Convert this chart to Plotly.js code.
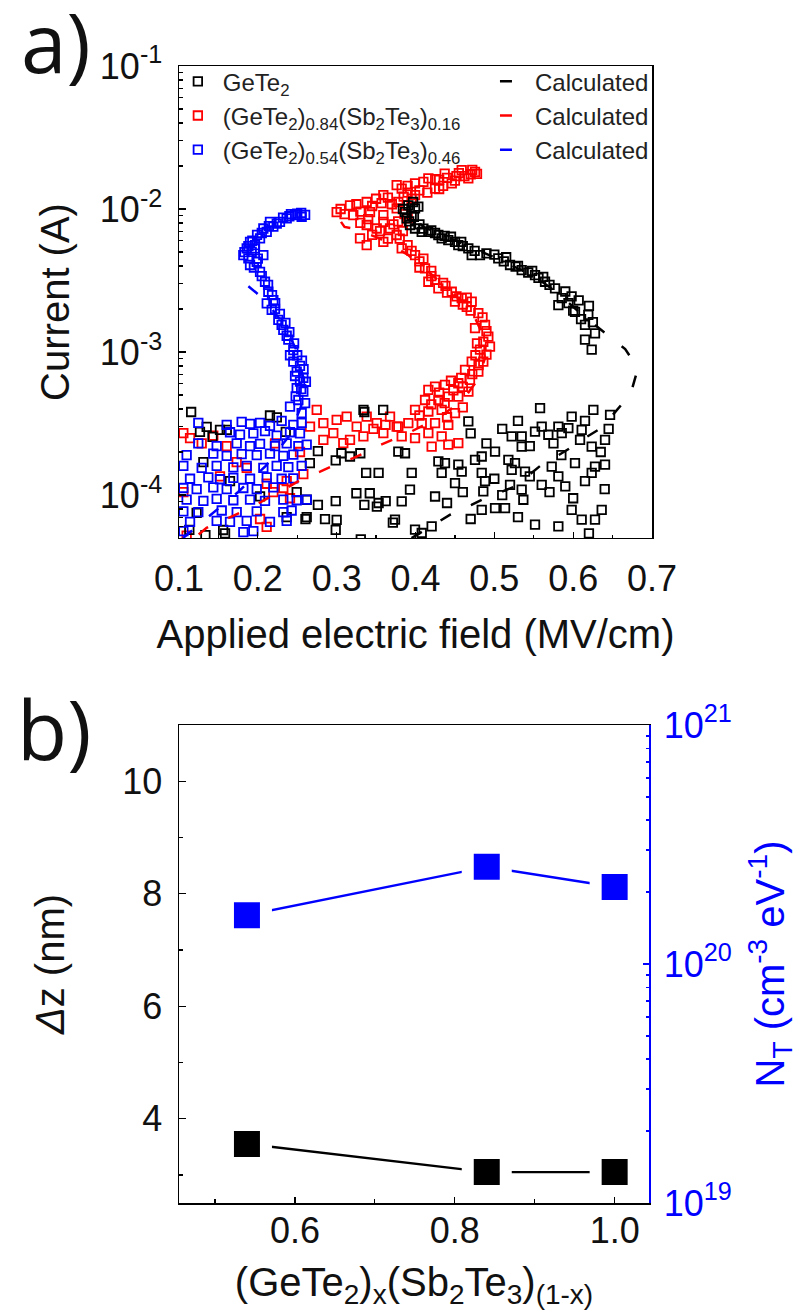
<!DOCTYPE html>
<html>
<head>
<meta charset="utf-8">
<script src="https://cdn.plot.ly/plotly-3.0.1.min.js"></script>
<style>
  html, body { margin: 0; padding: 0; background: #ffffff; }
  #chart { width: 808px; height: 1316px; }
</style>
</head>
<body>
<div id="chart"></div>
<script>
// ---------- Panel a: I–E characteristics ----------
// GeTe2 measured points (field in MV/cm, current in A)
const gete2Field = [
  0.3909, 0.3994, 0.4036, 0.3888, 0.3930, 0.3867, 0.3951, 0.3840, 0.3970, 0.3920, 0.3980,
  0.3994, 0.4079, 0.4163, 0.4248, 0.4290, 0.4332, 0.4416, 0.4501, 0.4543, 0.4600, 0.4670, 0.4713, 0.4818, 0.4900,
  0.5050, 0.5120, 0.5199, 0.5270, 0.5347, 0.5430, 0.5516, 0.5560, 0.5643, 0.5700, 0.5770, 0.5855, 0.5940, 0.5812,
  0.6023, 0.6100, 0.6192, 0.6150, 0.6277, 0.6150, 0.6235,
  0.4050, 0.4100, 0.4200, 0.4370, 0.4450, 0.4580, 0.4750, 0.5000, 0.5150, 0.5300, 0.5480, 0.5620, 0.5900, 0.5980,
  0.6070, 0.6200, 0.6250, 0.6000,
  0.5580, 0.5981, 0.6256, 0.6468, 0.4670, 0.5601, 0.5812, 0.5939, 0.6108, 0.5220, 0.5347, 0.5516, 0.5685, 0.5855,
  0.6087, 0.6235, 0.6404, 0.5347, 0.3782, 0.3867, 0.5009, 0.4840, 0.4755, 0.4290, 0.4374, 0.4543, 0.5178, 0.5262,
  0.5728, 0.6023, 0.6277, 0.6404, 0.3952, 0.4332, 0.4586, 0.4840, 0.5220, 0.5389, 0.5812, 0.6235, 0.4501, 0.4882,
  0.5199, 0.5347, 0.5601, 0.3930, 0.4248, 0.4860, 0.5368, 0.3825, 0.4840, 0.5009, 0.5136, 0.5516, 0.5812, 0.5981,
  0.6108, 0.6277, 0.6362, 0.3740, 0.4205, 0.4079, 0.3994,
  0.4700, 0.4900, 0.5100, 0.5300, 0.5450, 0.5750, 0.5850, 0.6150, 0.6350, 0.6450, 0.5000, 0.5100, 0.5450, 0.5700,
  0.5900, 0.6150, 0.6400, 0.4600, 0.4400, 0.4700, 0.5300, 0.6000, 0.6200,
  0.1154, 0.1606, 0.2241, 0.2762, 0.2988, 0.3169, 0.3351, 0.3374, 0.3532, 0.2762, 0.2988, 0.2852, 0.2988, 0.3351,
  0.3532, 0.3622, 0.3306, 0.3713, 0.1131, 0.1335, 0.1584, 0.1266, 0.1425, 0.2354, 0.2604, 0.1520, 0.1351, 0.2154,
  0.1309, 0.1647, 0.2028, 0.2366, 0.1224, 0.2493,
  0.3060, 0.3300, 0.3340, 0.3590, 0.2660, 0.2620, 0.3250, 0.3420, 0.2620, 0.3000, 0.3510, 0.1560
];
const gete2Current = [
  1.06e-2, 1.01e-2, 1.04e-2, 8.59e-3, 7.73e-3, 9.5e-3, 9.0e-3, 1.0e-2, 1.12e-2, 8.2e-3, 8.8e-3,
  7.31e-3, 6.93e-3, 6.93e-3, 6.8e-3, 6.58e-3, 6.23e-3, 6.07e-3, 5.9e-3, 5.6e-3, 5.5e-3, 5.31e-3, 4.76e-3, 4.76e-3, 4.9e-3,
  4.52e-3, 4.3e-3, 4.06e-3, 3.95e-3, 3.74e-3, 3.6e-3, 3.45e-3, 3.3e-3, 3.1e-3, 2.95e-3, 2.79e-3, 2.38e-3, 2.2e-3, 2.13e-3,
  1.91e-3, 1.7e-3, 1.82e-3, 1.55e-3, 1.35e-3, 1.22e-3, 1.04e-3,
  7.8e-3, 7.3e-3, 7.1e-3, 6.5e-3, 6.4e-3, 5.9e-3, 5.1e-3, 4.8e-3, 4.6e-3, 4.0e-3, 3.7e-3, 3.35e-3, 2.65e-3, 2.45e-3,
  2.3e-3, 2.1e-3, 1.62e-3, 1.95e-3,
  4.05e-4, 3.54e-4, 3.94e-4, 3.64e-4, 3.27e-4, 3.01e-4, 3.01e-4, 2.94e-4, 2.86e-4, 2.57e-4, 2.57e-4, 2.78e-4, 2.64e-4, 2.71e-4,
  2.43e-4, 2.18e-4, 2.43e-4, 2.18e-4, 2.01e-4, 1.96e-4, 2.01e-4, 1.86e-4, 1.76e-4, 1.72e-4, 1.67e-4, 1.63e-4, 1.76e-4, 1.67e-4,
  1.58e-4, 1.67e-4, 1.58e-4, 1.63e-4, 1.43e-4, 1.43e-4, 1.46e-4, 1.43e-4, 1.5e-4, 1.46e-4, 1.35e-4, 1.43e-4, 1.21e-4, 1.25e-4,
  1.18e-4, 1.09e-4, 1.18e-4, 1.09e-4, 9.77e-5, 1.06e-4, 9.27e-5, 9.02e-5, 7.89e-5, 8.1e-5, 8.1e-5, 6.21e-5, 6.04e-5, 7.89e-5,
  6.73e-5, 6.73e-5, 7.89e-5, 6.73e-5, 6.04e-5, 5.43e-5, 5.73e-5,
  2.7e-4, 2.3e-4, 2.9e-4, 3.3e-4, 2.2e-4, 2.3e-4, 1.9e-4, 3.3e-4, 2.0e-4, 2.9e-4, 1.3e-4, 1.0e-4, 1.35e-4, 1.05e-4,
  1.15e-4, 1.25e-4, 1.1e-4, 1.05e-4, 8.8e-5, 6.8e-5, 7.0e-5, 9.5e-5, 5.4e-5,
  3.81e-4, 2.86e-4, 3.49e-4, 2.03e-4, 1.75e-4, 1.86e-4, 3.81e-4, 1.43e-4, 1.43e-4, 8.55e-5, 9.06e-5, 6.79e-5, 5.71e-5, 8.55e-5,
  8.8e-5, 9.06e-5, 4.9e-5, 6.41e-5, 5.71e-5, 5.25e-5, 5.4e-5, 2.77e-4, 2.55e-4, 2.77e-4, 6.79e-5, 2.86e-4, 3.0e-4, 3.6e-4,
  1.7e-4, 1.25e-4, 9.8e-5, 7.0e-5, 7.5e-5, 1.05e-4,
  1.96e-4, 1.96e-4, 3.94e-4, 3.94e-4, 1.67e-4, 9.27e-5, 1.03e-4, 1.03e-4, 7.0e-5, 6.7e-5, 8.3e-5, 5.7e-5
];

// (GeTe2)0.84(Sb2Te3)0.16 measured points
const gst84Field = [
  0.4755, 0.4586, 0.4370, 0.4163, 0.3994, 0.3825, 0.4670, 0.4460, 0.4248, 0.3994, 0.3782, 0.3761, 0.3592, 0.3381,
  0.3169, 0.3000, 0.3211, 0.3423, 0.3592, 0.3761, 0.4520, 0.4300, 0.3900, 0.4700,
  0.3050, 0.3100, 0.3250, 0.3300, 0.3450, 0.3500, 0.3650, 0.3700, 0.3850, 0.3900, 0.4050, 0.4100, 0.4150, 0.4250,
  0.4350, 0.4400, 0.4500, 0.4550, 0.4620, 0.4720, 0.4780, 0.3570, 0.3950, 0.4300,
  0.3780, 0.3840, 0.3800,
  0.3296, 0.3381, 0.3592, 0.3761, 0.3677, 0.3508, 0.3381, 0.3592,
  0.3450, 0.3550, 0.3650, 0.3720, 0.3400, 0.3300, 0.3860, 0.3900,
  0.3825, 0.3994, 0.4121, 0.4163, 0.4290, 0.4460, 0.4586, 0.4713, 0.4050, 0.4200, 0.4380,
  0.3900, 0.3950, 0.4100, 0.4050, 0.4200, 0.4250, 0.4350, 0.4400, 0.4520, 0.4650, 0.4600, 0.4700, 0.4850, 0.4900,
  0.4860, 0.4780, 0.4900, 0.4760, 0.4800, 0.4720, 0.4580, 0.4450, 0.4300, 0.4600, 0.4480, 0.4200, 0.4370, 0.4050,
  0.4400, 0.4600,
  0.4501, 0.4650, 0.4797, 0.4882, 0.4755, 0.4924, 0.4945, 0.4818, 0.4860, 0.4713, 0.4628, 0.4797, 0.4691, 0.4543,
  0.4374, 0.4248, 0.4163, 0.4671, 0.4543, 0.4416, 0.4290, 0.4121, 0.3994, 0.4163, 0.4332, 0.4501, 0.4248, 0.4079,
  0.3909, 0.3782, 0.4416, 0.4163, 0.4332, 0.4543, 0.4416, 0.4205, 0.3994, 0.3825,
  0.2747, 0.2662, 0.2831, 0.2957, 0.3127, 0.3254, 0.3169, 0.3381, 0.3508, 0.3592, 0.3677, 0.3761, 0.2831, 0.3000,
  0.3339, 0.3084, 0.3466, 0.3620,
  0.1055, 0.1140, 0.1288, 0.1435, 0.1605, 0.1732, 0.1859, 0.2113, 0.2197, 0.2323, 0.2408, 0.2028, 0.2112, 0.1055,
  0.2366, 0.2535, 0.2218, 0.1097, 0.1520, 0.2577
];
const gst84Current = [
  1.82e-2, 1.87e-2, 1.77e-2, 1.64e-2, 1.51e-2, 1.39e-2, 1.64e-2, 1.51e-2, 1.39e-2, 1.25e-2, 1.12e-2, 1.47e-2, 1.25e-2, 1.12e-2,
  1.06e-2, 9.5e-3, 9.06e-3, 9.5e-3, 9.06e-3, 1.01e-2, 1.7e-2, 1.6e-2, 1.3e-2, 1.75e-2,
  1.0e-2, 9.2e-3, 1.08e-2, 9.6e-3, 1.05e-2, 1.18e-2, 1.2e-2, 1.08e-2, 1.22e-2, 1.45e-2, 1.35e-2, 1.55e-2, 1.3e-2, 1.62e-2,
  1.45e-2, 1.65e-2, 1.58e-2, 1.78e-2, 1.7e-2, 1.88e-2, 1.76e-2, 1.1e-2, 1.18e-2, 1.38e-2,
  8.2e-3, 7.0e-3, 6.2e-3,
  6.23e-3, 5.6e-3, 5.9e-3, 6.58e-3, 7.31e-3, 7.31e-3, 7.73e-3, 8.14e-3,
  6.6e-3, 7.0e-3, 6.2e-3, 7.8e-3, 8.5e-3, 8.0e-3, 9.2e-3, 8.6e-3,
  5.31e-3, 4.76e-3, 3.85e-3, 3.1e-3, 2.79e-3, 2.64e-3, 2.38e-3, 2.25e-3, 4.3e-3, 3.4e-3, 2.9e-3,
  5.6e-3, 5.1e-3, 4.5e-3, 3.9e-3, 3.7e-3, 3.2e-3, 3.05e-3, 2.6e-3, 2.45e-3, 2.4e-3, 2.15e-3, 1.95e-3, 1.75e-3, 1.4e-3,
  1.18e-3, 1.15e-3, 9.6e-4, 9.5e-4, 8.1e-4, 7.0e-4, 6.6e-4, 6.3e-4, 5.2e-4, 5.7e-4, 5.4e-4, 4.3e-4, 4.4e-4, 3.6e-4,
  3.5e-4, 4.1e-4,
  2.25e-3, 2.07e-3, 1.87e-3, 1.55e-3, 1.47e-3, 1.28e-3, 1.09e-3, 1.04e-3, 8.58e-4, 8.58e-4, 7.5e-4, 7.3e-4, 6.38e-4, 6.05e-4,
  5.89e-4, 5.73e-4, 5.43e-4, 5.29e-4, 4.88e-4, 4.88e-4, 4.62e-4, 4.62e-4, 3.94e-4, 3.84e-4, 3.94e-4, 3.74e-4, 3.18e-4, 3.18e-4,
  3.18e-4, 3.01e-4, 3.1e-4, 2.71e-4, 2.57e-4, 2.31e-4, 2.25e-4, 2.18e-4, 2.5e-4, 2.57e-4,
  3.94e-4, 3.01e-4, 3.18e-4, 2.71e-4, 3.54e-4, 3.01e-4, 2.43e-4, 3.54e-4, 3.18e-4, 2.71e-4, 3.54e-4, 3.01e-4, 2.43e-4, 3.36e-4,
  2.57e-4, 2.31e-4, 2.9e-4, 3.1e-4,
  2.71e-4, 2.5e-4, 2.3e-4, 2.6e-4, 2.2e-4, 1.7e-4, 1.55e-4, 1.2e-4, 1.05e-4, 1.12e-4, 9.5e-5, 6.8e-5, 6.0e-5, 1.05e-4,
  1.25e-4, 2.0e-4, 2.3e-4, 5.2e-5, 1.35e-4, 1.4e-4
];

// (GeTe2)0.54(Sb2Te3)0.46 measured points
const gst54Field = [
  0.2556, 0.2472, 0.2366, 0.2281, 0.2197, 0.2113, 0.2028, 0.1964, 0.1922, 0.1880, 0.1901, 0.1986, 0.2070, 0.2028,
  0.2091, 0.2133, 0.2197, 0.2154, 0.2070, 0.1901, 0.1859, 0.1816, 0.2420, 0.2600,
  0.2500, 0.2550, 0.2400, 0.2320, 0.2240, 0.2140, 0.2050, 0.1990, 0.1930, 0.1880, 0.1830, 0.1960, 0.2000, 0.1950,
  0.2050, 0.2130, 0.2180, 0.2220, 0.2280, 0.2350, 0.2400, 0.2460, 0.2500, 0.2560, 0.2580, 0.2610, 0.2550, 0.2480,
  0.2600,
  0.2113, 0.2176, 0.2260, 0.2323, 0.2387, 0.2450, 0.2450, 0.2493, 0.2535, 0.2577, 0.2514, 0.2408, 0.2556, 0.2218,
  0.2302, 0.2366, 0.2408, 0.2535, 0.2472, 0.2577, 0.2493,
  0.1245, 0.1605, 0.1795, 0.1901, 0.2028, 0.2154, 0.2302, 0.2450, 0.2556,
  0.1647, 0.1774, 0.1943, 0.2091, 0.2239, 0.2408, 0.2535,
  0.1245, 0.1478, 0.1732, 0.1901, 0.2028, 0.2218, 0.2366, 0.2514, 0.2620,
  0.1097, 0.1435, 0.1605, 0.1795, 0.1986, 0.2154, 0.2323, 0.2450,
  0.1055, 0.1288, 0.1478, 0.1689, 0.1859, 0.2070, 0.2239, 0.2387, 0.2556,
  0.1140, 0.1372, 0.1520, 0.1689, 0.1901, 0.2113, 0.2302, 0.2450,
  0.1055, 0.1224, 0.1435, 0.1605, 0.1816, 0.1986, 0.2197,
  0.1097, 0.1309, 0.1478, 0.1689, 0.1901, 0.2091, 0.2323, 0.2493, 0.2620,
  0.1055, 0.1245, 0.1542, 0.1732, 0.1986, 0.2323, 0.2429,
  0.1140, 0.1478, 0.1647, 0.1859, 0.2154, 0.2366,
  0.1055, 0.1816, 0.1943
];
const gst54Current = [
  8.83e-3, 9.06e-3, 8.59e-3, 8.14e-3, 7.52e-3, 6.93e-3, 6.23e-3, 5.6e-3, 5.02e-3, 4.52e-3, 4.06e-3, 4.28e-3, 4.76e-3, 3.64e-3,
  3.1e-3, 2.64e-3, 2.31e-3, 8.14e-3, 7.31e-3, 5.9e-3, 5.31e-3, 4.76e-3, 9.2e-3, 9.1e-3,
  9.3e-3, 9.4e-3, 8.9e-3, 8.7e-3, 7.9e-3, 7.6e-3, 6.8e-3, 6.6e-3, 6.0e-3, 5.5e-3, 5.0e-3, 5.3e-3, 4.5e-3, 3.9e-3,
  3.4e-3, 2.95e-3, 2.5e-3, 2.2e-3, 1.85e-3, 1.6e-3, 1.38e-3, 1.15e-3, 9.5e-4, 8.7e-4, 7.6e-4, 6.2e-4, 5.5e-4, 4.9e-4,
  4.4e-4,
  2.19e-3, 1.97e-3, 1.68e-3, 1.43e-3, 1.22e-3, 1.03e-3, 8.58e-4, 7.3e-4, 6.21e-4, 5.29e-4, 4.62e-4, 4.15e-4, 3.74e-4, 2.0e-3,
  1.55e-3, 1.3e-3, 9.5e-4, 8.0e-4, 6.8e-4, 6.6e-4, 5.6e-4,
  3.2e-4, 3.1e-4, 3.25e-4, 3.15e-4, 3.2e-4, 3.05e-4, 3.3e-4, 3.1e-4, 3.2e-4,
  2.75e-4, 2.65e-4, 2.7e-4, 2.8e-4, 2.6e-4, 2.75e-4, 2.7e-4,
  2.3e-4, 2.2e-4, 2.3e-4, 2.2e-4, 2.28e-4, 2.2e-4, 2.3e-4, 2.2e-4, 2.25e-4,
  1.9e-4, 1.95e-4, 1.88e-4, 1.93e-4, 1.9e-4, 1.95e-4, 1.88e-4, 1.92e-4,
  1.6e-4, 1.55e-4, 1.6e-4, 1.56e-4, 1.6e-4, 1.55e-4, 1.6e-4, 1.57e-4, 1.6e-4,
  1.3e-4, 1.33e-4, 1.29e-4, 1.32e-4, 1.3e-4, 1.33e-4, 1.3e-4, 1.31e-4,
  1.12e-4, 1.1e-4, 1.13e-4, 1.1e-4, 1.12e-4, 1.1e-4, 1.13e-4,
  9.3e-5, 9.1e-5, 9.4e-5, 9.2e-5, 9.3e-5, 9.1e-5, 9.3e-5, 9.2e-5, 9.3e-5,
  7.7e-5, 7.6e-5, 7.8e-5, 7.6e-5, 7.7e-5, 7.6e-5, 7.8e-5,
  6.5e-5, 6.6e-5, 6.5e-5, 6.6e-5, 6.5e-5, 6.6e-5,
  5.6e-5, 5.5e-5, 5.6e-5
];

// Calculated curves
const calcGete2Field = [0.395, 0.430, 0.444, 0.471, 0.484, 0.516, 0.526, 0.560, 0.5685, 0.596, 0.6045, 0.632, 0.645, 0.666,
  0.675, 0.680, 0.677, 0.666, 0.657, 0.641, 0.610, 0.580, 0.550, 0.500, 0.450, 0.410, 0.395, 0.390];
const calcGete2Current = [5.0e-5, 6.6e-5, 7.3e-5, 8.55e-5, 9.27e-5, 1.09e-4, 1.15e-4, 1.63e-4, 1.72e-4, 2.13e-4, 2.31e-4, 2.86e-4,
  3.36e-4, 4.6e-4, 5.6e-4, 7.0e-4, 8.5e-4, 1.05e-3, 1.15e-3, 1.35e-3, 1.85e-3, 2.6e-3, 3.4e-3, 4.6e-3, 6.0e-3, 7.5e-3, 9.0e-3, 1.1e-2];
const calcGst84Field = [0.125, 0.135, 0.1435, 0.1774, 0.190, 0.2197, 0.2366, 0.262, 0.279, 0.304, 0.321, 0.344, 0.353, 0.390,
  0.430, 0.460, 0.478, 0.488, 0.486, 0.472, 0.450, 0.420, 0.390, 0.355, 0.322, 0.310, 0.295];
const calcGst84Current = [5.3e-5, 5.9e-5, 6.2e-5, 7.5e-5, 8.1e-5, 1.0e-4, 1.12e-4, 1.35e-4, 1.46e-4, 1.68e-4, 1.81e-4, 2.08e-4,
  2.21e-4, 2.7e-4, 3.5e-4, 4.6e-4, 6.3e-4, 9.0e-4, 1.3e-3, 1.9e-3, 2.5e-3, 3.5e-3, 4.8e-3, 6.2e-3, 7.3e-3, 7.5e-3, 9.8e-3];
const calcGst54Field = [0.105, 0.140, 0.175, 0.210, 0.240, 0.255, 0.258, 0.250, 0.235, 0.215, 0.198, 0.184, 0.172];
const calcGst54Current = [5.0e-5, 7.2e-5, 1.05e-4, 1.6e-4, 2.6e-4, 4.2e-4, 6.5e-4, 1.0e-3, 1.5e-3, 2.1e-3, 2.6e-3, 3.0e-3, 3.5e-3];

const currentTicks = [1e-4, 1e-3, 1e-2, 1e-1];
const currentTickText = ['10<sup>-4</sup>', '10<sup>-3</sup>', '10<sup>-2</sup>', '10<sup>-1</sup>'];

// ---------- Panel b: trap parameters vs composition ----------
const compositionX = [0.54, 0.84, 1.0];
const deltaZ = [3.55, 3.05, 3.05];
const trapDensity = [1.6e20, 2.55e20, 2.1e20];
const densityTicks = [1e19, 1e20, 1e21];
const densityTickText = ['10<sup>19</sup>', '10<sup>20</sup>', '10<sup>21</sup>'];

// ---------- styling ----------
const FONT = 'Liberation Sans, Arial, sans-serif';
const BLACK = '#000000', RED = '#ff0000', BLUE = '#0000ff';
const openSquare = c => ({ symbol: 'square-open', size: 8.5, color: c, line: { color: c, width: 1.8 } });
const calcLine = c => ({ color: c, width: 2.5, dash: '12px,22px' });
// filled squares with a white rim, so connecting lines stop short of each marker
const solidSquare = c => ({ symbol: 'square', size: 38, color: c, line: { color: '#ffffff', width: 12 } });

const traces = [
  { x: gst84Field, y: gst84Current, type: 'scatter', mode: 'markers', marker: openSquare(RED),
    name: '(GeTe<sub>2</sub>)<sub>0.84</sub>(Sb<sub>2</sub>Te<sub>3</sub>)<sub>0.16</sub>', legendrank: 2,
    xaxis: 'x', yaxis: 'y' },
  { x: gete2Field, y: gete2Current, type: 'scatter', mode: 'markers', marker: openSquare(BLACK),
    name: 'GeTe<sub>2</sub>', legendrank: 1, xaxis: 'x', yaxis: 'y' },
  { x: gst54Field, y: gst54Current, type: 'scatter', mode: 'markers', marker: openSquare(BLUE),
    name: '(GeTe<sub>2</sub>)<sub>0.54</sub>(Sb<sub>2</sub>Te<sub>3</sub>)<sub>0.46</sub>', legendrank: 3,
    xaxis: 'x', yaxis: 'y' },
  { x: calcGete2Field, y: calcGete2Current, type: 'scatter', mode: 'lines', line: calcLine(BLACK),
    name: 'Calculated', legend: 'legend2', legendrank: 1, xaxis: 'x', yaxis: 'y' },
  { x: calcGst84Field, y: calcGst84Current, type: 'scatter', mode: 'lines', line: calcLine(RED),
    name: 'Calculated', legend: 'legend2', legendrank: 2, xaxis: 'x', yaxis: 'y' },
  { x: calcGst54Field, y: calcGst54Current, type: 'scatter', mode: 'lines', line: calcLine(BLUE),
    name: 'Calculated', legend: 'legend2', legendrank: 3, xaxis: 'x', yaxis: 'y' },

  { x: compositionX, y: deltaZ, type: 'scatter', mode: 'lines+markers', showlegend: false,
    line: { color: BLACK, width: 2.4 }, marker: solidSquare(BLACK),
    xaxis: 'x2', yaxis: 'y2' },
  { x: compositionX, y: trapDensity, type: 'scatter', mode: 'lines+markers', showlegend: false,
    line: { color: BLUE, width: 2.4 }, marker: solidSquare(BLUE),
    xaxis: 'x2', yaxis: 'y3' }
];

const tickFont = { family: FONT, size: 36, color: '#111' };
const titleFont = { family: FONT, size: 40, color: '#111' };
const legendFont = { family: FONT, size: 24, color: '#222' };
const panelFont = { family: 'Open Sans, Noto Sans, sans-serif', size: 82, color: '#111' };

const layout = {
  width: 808, height: 1316,
  margin: { l: 179, r: 156, t: 66, b: 113 },
  paper_bgcolor: '#ffffff', plot_bgcolor: '#ffffff',
  showlegend: true,
  legend: { x: -0.013, y: 1.006, xanchor: 'left', yanchor: 'top', bgcolor: 'rgba(0,0,0,0)',
            font: legendFont, itemwidth: 40 },
  legend2: { x: 0.668, y: 1.006, xanchor: 'left', yanchor: 'top', bgcolor: 'rgba(0,0,0,0)',
             font: legendFont, itemwidth: 30 },
  xaxis: {
    domain: [0, 1], anchor: 'y', range: [0.1, 0.7], dtick: 0.1, tick0: 0.1,
    showgrid: false, zeroline: false, showline: true, linecolor: '#000', linewidth: 1.5, mirror: true,
    ticks: 'inside', ticklen: 6, tickwidth: 1.3, tickcolor: '#000',
    minor: { dtick: 0.05, ticks: 'inside', ticklen: 3, tickcolor: '#000', showgrid: false },
    tickfont: tickFont, ticklabelstandoff: 8,
    title: { text: 'Applied electric field (MV/cm)', font: titleFont, standoff: 22 }
  },
  yaxis: {
    domain: [0.5849, 1], anchor: 'x', type: 'log', range: [-4.3, -1],
    tickmode: 'array', tickvals: currentTicks, ticktext: currentTickText,
    showgrid: false, zeroline: false, showline: true, linecolor: '#000', linewidth: 1.5, mirror: true,
    ticks: 'inside', ticklen: 7, tickwidth: 1.3, tickcolor: '#000',
    minor: { dtick: 'D1', ticks: 'inside', ticklen: 4, tickcolor: '#000', showgrid: false },
    tickfont: tickFont, ticklabelstandoff: 8,
    title: { text: 'Current (A)', font: titleFont, standoff: 18 }
  },
  xaxis2: {
    domain: [0, 0.9937], anchor: 'y2', range: [0.455, 1.043], dtick: 0.2, tick0: 0.6, tickformat: '.1f',
    showgrid: false, zeroline: false, showline: true, linecolor: '#000', linewidth: 1.5, mirror: true,
    ticks: 'inside', ticklen: 6, tickwidth: 1.3, tickcolor: '#000',
    minor: { dtick: 0.1, ticks: 'inside', ticklen: 4, tickcolor: '#000', showgrid: false },
    tickfont: tickFont, ticklabelstandoff: -5,
    title: { text: '(GeTe<sub>2</sub>)<sub>x</sub>(Sb<sub>2</sub>Te<sub>3</sub>)<sub>(1-x)</sub>', font: titleFont, standoff: 18 }
  },
  yaxis2: {
    domain: [0, 0.4204], anchor: 'x2', range: [2.5, 11], dtick: 2, tick0: 0,
    showgrid: false, zeroline: false, showline: true, linecolor: '#000', linewidth: 1.5, mirror: false,
    ticks: 'inside', ticklen: 7, tickwidth: 1.3, tickcolor: '#000',
    minor: { dtick: 1, ticks: 'inside', ticklen: 4, tickcolor: '#000', showgrid: false },
    tickfont: tickFont, ticklabelstandoff: 8,
    title: { text: '<i>Δ</i>z (nm)', font: titleFont, standoff: 45 }
  },
  yaxis3: {
    overlaying: 'y2', anchor: 'x2', side: 'right', type: 'log', range: [19, 21],
    tickmode: 'array', tickvals: densityTicks, ticktext: densityTickText,
    showgrid: false, zeroline: false, showline: true, linecolor: BLUE, linewidth: 1.5,
    ticks: 'inside', ticklen: 6, tickwidth: 1.3, tickcolor: BLUE,
    minor: { dtick: 'D1', ticks: 'inside', ticklen: 3, tickcolor: BLUE, showgrid: false },
    tickfont: { family: FONT, size: 36, color: BLUE }, ticklabelstandoff: 6,
    title: { text: 'N<sub>T</sub> (cm<sup>-3</sup> eV<sup>-1</sup>)', font: { family: FONT, size: 40, color: BLUE }, standoff: 25 }
  },
  annotations: [
    { text: 'a)', xref: 'paper', yref: 'paper', x: -0.26, y: 1.022, xanchor: 'center', yanchor: 'middle',
      showarrow: false, font: panelFont },
    { text: 'b)', xref: 'paper', yref: 'paper', x: -0.265, y: 0.418, xanchor: 'center', yanchor: 'middle',
      showarrow: false, font: panelFont }
  ]
};

Plotly.newPlot('chart', traces, layout, { staticPlot: true, displayModeBar: false });
</script>
</body>
</html>
